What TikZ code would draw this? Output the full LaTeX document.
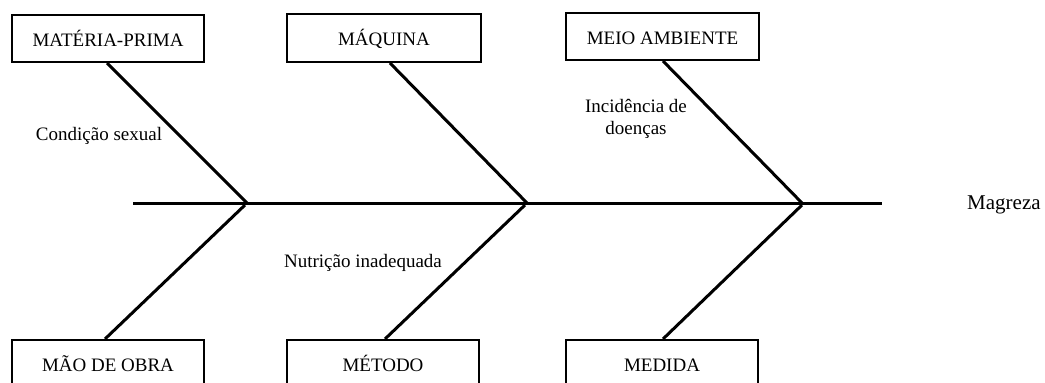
\documentclass[tikz,border=0pt]{standalone}
\usepackage{fontspec}
\setmainfont{Liberation Serif}
\begin{document}
\begin{tikzpicture}[x=1pt,y=-1pt,
  catbox/.style={draw=black,line width=2pt,minimum width=192pt,minimum height=47pt,inner sep=0pt,text height=15.5pt,text depth=0pt,font=\fontsize{19}{22}\selectfont},
  lbl/.style={font=\fontsize{19}{22}\selectfont,inner sep=0pt,align=center},
  bone/.style={line width=3pt,line cap=butt}]
\useasboundingbox (0,0) rectangle (1045,383);
% boxes
\node[catbox] (mp) at (108,38.5) {MATÉRIA-PRIMA};
\node[catbox,minimum width=194pt,minimum height=48pt] (maq) at (384,38) {MÁQUINA};
\node[catbox,minimum width=193pt] (meio) at (662.5,36.5) {MEIO AMBIENTE};
\node[catbox] (mao) at (108,363.5) {MÃO DE OBRA};
\node[catbox] (met) at (383,363.5) {MÉTODO};
\node[catbox] (med) at (662,363.5) {MEDIDA};
% spine
\coordinate (s0) at (133,203);
\coordinate (s1) at (882,203);
\coordinate (j1) at (247,203);
\coordinate (j2) at (527,203);
\coordinate (j3) at (802,203);
\coordinate (k1) at (245,205);
\coordinate (k2) at (525,205);
\coordinate (k3) at (802,205);
\draw[bone] (s0) -- (s1);
\node[lbl,font=\fontsize{21}{22}\selectfont,anchor=west] (eff) at (967,205) {Magreza};
% bones
\draw[bone] ([xshift=-1pt]mp.south) -- (j1);
\draw[bone] ([xshift=6pt]maq.south) -- (j2);
\draw[bone] ([xshift=0.5pt]meio.south) -- (j3);
\draw[bone] ([xshift=-3pt]mao.north) -- (k1);
\draw[bone] ([xshift=2pt]met.north) -- (k2);
\draw[bone] ([xshift=1pt]med.north) -- (k3);
% labels
\node[lbl] (t1) at (99,136) {Condição sexual};
\node[lbl] (t2) at (636,119) {Incidência de\\doenças};
\node[lbl] (t3) at (363,263) {Nutrição inadequada};
\end{tikzpicture}
\end{document}
